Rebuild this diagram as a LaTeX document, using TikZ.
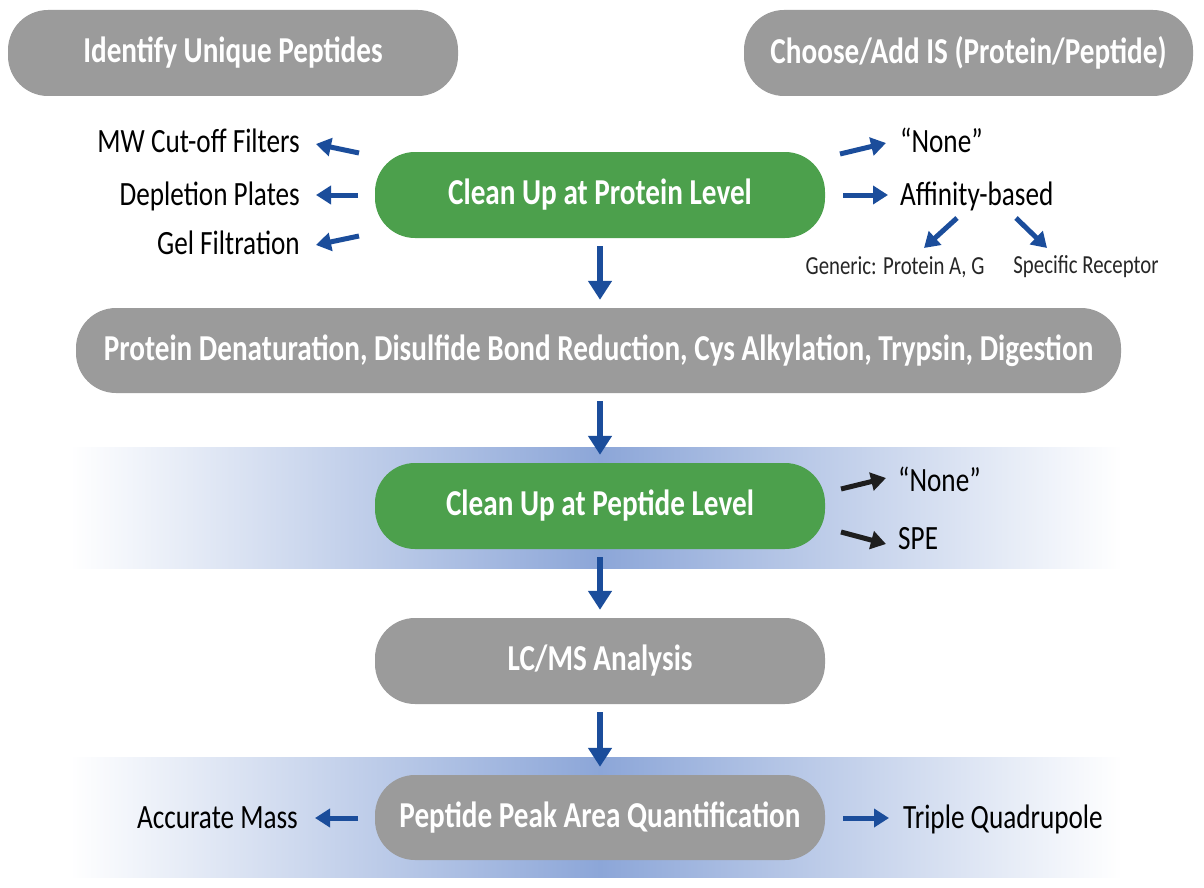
\documentclass[tikz,border=0pt]{standalone}
\usepackage{fontspec}
\setmainfont{Carlito}[FakeStretch=0.8]
\usetikzlibrary{arrows.meta}
\definecolor{boxgray}{RGB}{155,155,155}
\definecolor{boxgreen}{RGB}{76,160,76}
\definecolor{arrowblue}{RGB}{27,77,155}
\definecolor{bandblue}{RGB}{140,166,216}
\definecolor{arrowblack}{RGB}{30,30,30}
\tikzset{
  box/.style={rounded corners=40pt, minimum height=86pt, inner sep=0pt, text=white,
    font=\fontsize{36.5}{40}\selectfont\bfseries},
  graybox/.style={box, fill=boxgray},
  greenbox/.style={box, fill=boxgreen},
  lbl/.style={inner sep=0pt, text=black, font=\fontsize{34}{38}\selectfont, text height=24pt, text depth=0pt},
  small/.style={inner sep=0pt, text=black!85, font=\fontsize{26}{30}\selectfont},
  barrow/.style={arrowblue, line width=5pt, -{Triangle[length=15pt,width=18pt]}},
  karrow/.style={arrowblack, line width=5pt, -{Triangle[length=15pt,width=18pt]}},
  vbarrow/.style={arrowblue, line width=6.5pt, -{Triangle[length=19pt,width=23pt]}, shorten <=8pt, shorten >=8pt},
}
\begin{document}
\begin{tikzpicture}[x=1pt,y=-1pt]
\useasboundingbox (0,0) rectangle (1204,888);
% background bands
\fill[left color=white, right color=bandblue] (70,447) rectangle (600,568);
\fill[left color=bandblue, right color=white] (600,447) rectangle (1122,568);
\fill[left color=white, right color=bandblue] (70,757) rectangle (600,877);
\fill[left color=bandblue, right color=white] (600,757) rectangle (1122,877);

% boxes
\node[graybox, minimum width=450pt] (iup) at (233,53) {Identify Unique Peptides};
\node[graybox, minimum width=449pt] (cis) at (968.5,53) {Choose/Add IS (Protein/Peptide)};
\node[greenbox, minimum width=450pt] (cup) at (600,195) {Clean Up at Protein Level};
\node[graybox, minimum width=1045pt, minimum height=85pt] (den) at (598.5,350.5) {Protein Denaturation, Disulfide Bond Reduction, Cys Alkylation, Trypsin, Digestion};
\node[greenbox, minimum width=450pt] (cpep) at (600,506) {Clean Up at Peptide Level};
\node[graybox, minimum width=450pt] (lcms) at (600,661) {LC/MS Analysis};
\node[graybox, minimum width=450pt, minimum height=85pt] (quant) at (600,817.5) {Peptide Peak Area Quantification};

% left labels
\node[lbl, anchor=east] (mw) at (300,141) {MW Cut-off Filters};
\node[lbl, anchor=east] (dp) at (300,193) {Depletion Plates};
\node[lbl, anchor=east] (gf) at (300,242) {Gel Filtration};
% right labels
\node[lbl, anchor=west] (none1) at (900,141) {“None”};
\node[lbl, anchor=west] (aff) at (900,193) {Affinity-based};
\node[small] (gen) at (895,267) {Generic: Protein A, G};
\node[small] (spec) at (1086,267) {Specific Receptor};
\node[lbl, anchor=west] (none2) at (898,479) {“None”};
\node[lbl, anchor=west] (spe) at (898,537) {SPE};
\node[lbl, anchor=east] (am) at (298,816) {Accurate Mass};
\node[lbl, anchor=west] (tq) at (903,816) {Triple Quadrupole};

% arrow coordinates
\coordinate (t1) at (359,153);
\coordinate (h1) at (316,144);
\coordinate (t2) at (358,195);
\coordinate (h2) at (316,195);
\coordinate (t3) at (359,236);
\coordinate (h3) at (316,245);
\coordinate (t4) at (840,154);
\coordinate (h4) at (886,143);
\coordinate (t5) at (843,195);
\coordinate (h5) at (888,195);
\coordinate (t6) at (957,218);
\coordinate (h6) at (924,248);
\coordinate (t7) at (1016,218);
\coordinate (h7) at (1047,248);
\coordinate (t8) at (841,489);
\coordinate (h8) at (886,478);
\coordinate (t9) at (841,532);
\coordinate (h9) at (886,544);
\coordinate (t10) at (358,818);
\coordinate (h10) at (315,818);
\coordinate (t11) at (843,818);
\coordinate (h11) at (889,818);

\draw[barrow] (t1) -- (h1);
\draw[barrow] (t2) -- (h2);
\draw[barrow] (t3) -- (h3);
\draw[barrow] (t4) -- (h4);
\draw[barrow] (t5) -- (h5);
\draw[barrow] (t6) -- (h6);
\draw[barrow] (t7) -- (h7);
\draw[karrow] (t8) -- (h8);
\draw[karrow] (t9) -- (h9);
\draw[barrow] (t10) -- (h10);
\draw[barrow] (t11) -- (h11);

% vertical arrows
\draw[vbarrow] (cup.south) -- (cup.south |- den.north);
\draw[vbarrow] (cup.south |- den.south) -- (cpep.north);
\draw[vbarrow] (cpep.south) -- (lcms.north);
\draw[vbarrow] (lcms.south) -- (quant.north);
\end{tikzpicture}
\end{document}
